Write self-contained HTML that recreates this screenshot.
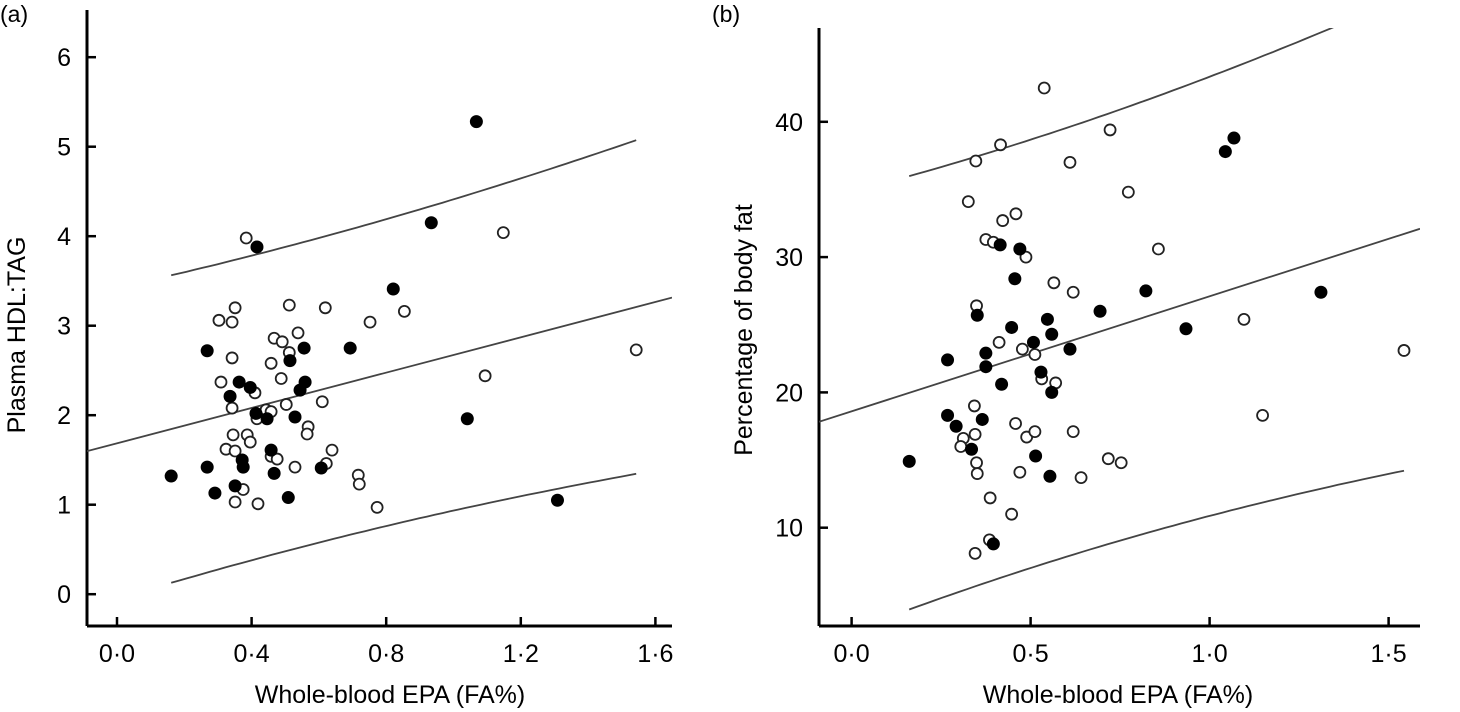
<!DOCTYPE html>
<html><head><meta charset="utf-8"><style>
html,body{margin:0;padding:0;background:#fff;}
svg{display:block;font-family:"Liberation Sans",Arial,sans-serif;}
</style></head><body>
<svg id="chart" width="1460" height="712" viewBox="0 0 1460 712" xmlns="http://www.w3.org/2000/svg">
<text x="0" y="22" font-size="23">(a)</text>
<text x="712" y="22" font-size="23">(b)</text>
<g id="pa"></g>
<g id="pb"></g>
</svg>
<script>
// Panel (a) data
const aFilledX=[0.416,0.821,0.268,0.693,0.556,0.514,0.363,0.396,0.336,0.559,0.544,0.413,0.446,0.529,0.458,0.372,0.375,0.268,0.467,0.607,0.161,0.351,0.291,0.509,0.934,1.068,1.041,1.309];
const aFilledY=[3.88,3.41,2.72,2.75,2.75,2.61,2.37,2.31,2.21,2.37,2.28,2.02,1.96,1.98,1.61,1.50,1.42,1.42,1.35,1.41,1.32,1.21,1.13,1.08,4.15,5.28,1.96,1.05];
const aOpenX=[0.384,0.351,0.303,0.342,0.512,0.619,0.752,0.854,0.538,0.467,0.491,0.512,0.342,0.458,0.488,0.309,0.410,0.342,0.503,0.610,0.443,0.458,0.416,0.568,0.565,0.345,0.387,0.396,0.324,0.351,0.639,0.458,0.476,0.529,0.622,0.717,0.720,0.375,0.351,0.419,0.773,1.148,1.094,1.543];
const aOpenY=[3.98,3.20,3.06,3.04,3.23,3.20,3.04,3.16,2.92,2.86,2.82,2.70,2.64,2.58,2.41,2.37,2.25,2.08,2.12,2.15,2.06,2.04,1.96,1.87,1.79,1.78,1.78,1.70,1.62,1.60,1.61,1.54,1.51,1.42,1.46,1.33,1.23,1.17,1.03,1.01,0.97,4.04,2.44,2.73];
const aXTicks=[0,0.4,0.8,1.2,1.6];
const aXTickLabels=["0·0","0·4","0·8","1·2","1·6"];
const aYTicks=[0,1,2,3,4,5,6];
const aFit=[1.686,0.987]; // intercept, slope
const aBand=[1.70,0.186,0.5]; // a, b, mean
// Panel (b) data
const bFilledX=[0.415,0.470,0.456,0.822,0.351,0.694,0.447,0.547,0.559,0.508,0.610,0.268,0.375,0.375,0.529,0.419,0.559,0.268,0.292,0.365,0.335,0.514,0.161,0.554,0.396,1.068,1.044,1.311,0.934];
const bFilledY=[30.9,30.6,28.4,27.5,25.7,26.0,24.8,25.4,24.3,23.7,23.2,22.4,22.9,21.9,21.5,20.6,20.0,18.3,17.5,18.0,15.8,15.3,14.9,13.8,8.8,38.8,37.8,27.4,24.7];
const bOpenX=[0.538,0.416,0.347,0.610,0.722,0.773,0.326,0.422,0.459,0.375,0.396,0.487,0.857,0.565,0.619,0.349,0.412,0.477,0.512,0.531,0.570,0.343,0.458,0.345,0.312,0.305,0.489,0.512,0.619,0.349,0.351,0.470,0.717,0.753,0.641,0.387,0.447,0.385,0.345,1.096,1.543,1.148];
const bOpenY=[42.5,38.3,37.1,37.0,39.4,34.8,34.1,32.7,33.2,31.3,31.1,30.0,30.6,28.1,27.4,26.4,23.7,23.2,22.8,21.0,20.7,19.0,17.7,16.9,16.6,16.0,16.7,17.1,17.1,14.8,14.0,14.1,15.1,14.8,13.7,12.2,11.0,9.1,8.1,25.4,23.1,18.3];
const bXTicks=[0,0.5,1.0,1.5];
const bXTickLabels=["0·0","0·5","1·0","1·5"];
const bYTicks=[10,20,30,40];
const bFit=[18.6,8.5];
const bBand=[15.83,0.2045,0.5];

const NS="http://www.w3.org/2000/svg";
function mk(parent,tag,attrs){const e=document.createElementNS(NS,tag);for(const k in attrs)e.setAttribute(k,attrs[k]);parent.appendChild(e);return e;}

function panel(g,cfg){
  const sx=v=>cfg.x0+v*cfg.kx, sy=v=>cfg.y0-v*cfg.ky;
  const ax=mk(g,'line',{x1:cfg.axX,y1:cfg.axY,x2:cfg.axRight,y2:cfg.axY,stroke:'#000','stroke-width':3});
  
  
  const ay=mk(g,'line',{x1:cfg.axX,y1:cfg.axTop,x2:cfg.axX,y2:cfg.axY,stroke:'#000','stroke-width':3});
  
  
  cfg.xt.forEach((t,i)=>{
    const x=sx(t);
    const tk=mk(g,'line',{x1:x,y1:cfg.axY,x2:x,y2:cfg.axY-9,stroke:'#000','stroke-width':2.5});
    
    
    const tl=mk(g,'text',{x:x,y:cfg.axY+36,'font-size':25,'text-anchor':'middle'});
    tl.textContent=cfg.xl[i];
    
    
  });
  cfg.yt.forEach(t=>{
    const y=sy(t);
    const tk=mk(g,'line',{x1:cfg.axX,y1:y,x2:cfg.axX+9,y2:y,stroke:'#000','stroke-width':2.5});
    
    
    const tl=mk(g,'text',{x:cfg.axX-16,y:y+9,'font-size':25,'text-anchor':'end'});
    tl.textContent=String(t);
    
    
  });
  const xt=mk(g,'text',{x:cfg.xTitleX,y:703,'font-size':25,'text-anchor':'middle'});
  xt.textContent='Whole-blood EPA (FA%)';
  
  
  const yt=mk(g,'text',{x:0,y:0,'font-size':25,'text-anchor':'middle',transform:`translate(${cfg.yTitleX},${cfg.yTitleY}) rotate(-90)`});
  yt.textContent=cfg.yTitle;
  
  
  const cid='clip'+cfg.id;
  const cp=mk(g,'clipPath',{id:cid});
  mk(cp,'rect',{x:cfg.axX,y:cfg.axTop,width:cfg.axRight-cfg.axX,height:cfg.axY-cfg.axTop});
  const fit=v=>cfg.fit[0]+cfg.fit[1]*v;
  const h=v=>cfg.band[0]*Math.sqrt(1+cfg.band[1]*(v-cfg.band[2])**2);
  const xmin=(cfg.axX-cfg.x0)/cfg.kx, xmax=(cfg.axRight-cfg.x0)/cfg.kx;
  const reg=mk(g,'line',{x1:sx(xmin),y1:sy(fit(xmin)),x2:sx(xmax),y2:sy(fit(xmax)),stroke:'#444','stroke-width':1.8,'clip-path':`url(#${cid})`});
  
  
  const lo=Math.min(...cfg.fx,...cfg.ox), hi=Math.max(...cfg.fx,...cfg.ox);
  [1,-1].forEach(sgn=>{
    let d='';
    for(let i=0;i<=60;i++){const v=lo+(hi-lo)*i/60;d+=(i?'L':'M')+sx(v).toFixed(1)+','+sy(fit(v)+sgn*h(v)).toFixed(1);}
    const p=mk(g,'path',{d:d,fill:'none',stroke:'#444','stroke-width':1.8,'clip-path':`url(#${cid})`});
    
    
  });
  cfg.ox.forEach((v,i)=>{
    const c=mk(g,'circle',{cx:sx(v),cy:sy(cfg.oy[i]),r:5.5,fill:'#fff',stroke:'#222','stroke-width':1.8});
    
    
  });
  cfg.fx.forEach((v,i)=>{
    const c=mk(g,'circle',{cx:sx(v),cy:sy(cfg.fy[i]),r:6.5,fill:'#000'});
    
    
  });
}
panel(document.getElementById('pa'),{id:'a',x0:117,kx:336.5,y0:594.2,ky:89.5,axX:87,axY:626,axTop:10,axRight:672,
  xt:aXTicks,xl:aXTickLabels,yt:aYTicks,fit:aFit,band:aBand,fx:aFilledX,fy:aFilledY,ox:aOpenX,oy:aOpenY,
  xTitleX:390,yTitleX:25,yTitleY:335,yTitle:'Plasma HDL:TAG'});
panel(document.getElementById('pb'),{id:'b',x0:851.6,kx:358,y0:663,ky:13.53,axX:819,axY:626,axTop:28,axRight:1420,
  xt:bXTicks,xl:bXTickLabels,yt:bYTicks,fit:bFit,band:bBand,fx:bFilledX,fy:bFilledY,ox:bOpenX,oy:bOpenY,
  xTitleX:1118,yTitleX:752,yTitleY:330,yTitle:'Percentage of body fat'});
</script>
</body></html>
